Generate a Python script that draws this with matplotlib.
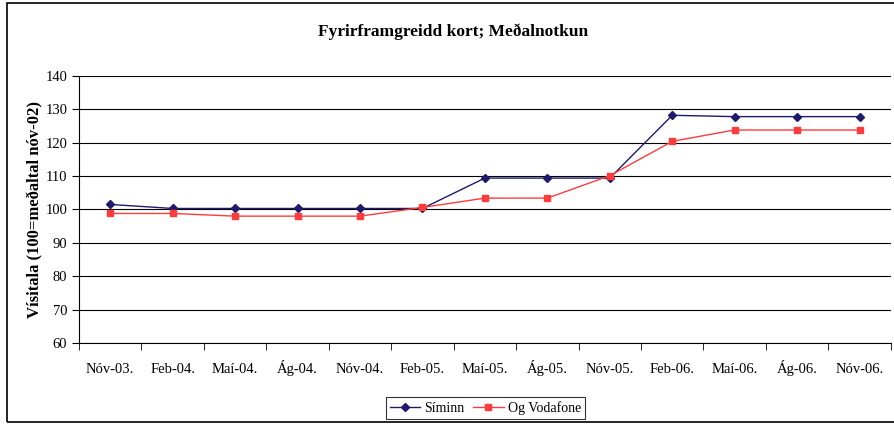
import matplotlib.pyplot as plt
from matplotlib.patches import Rectangle
import numpy as np

plt.rcParams['font.family'] = ['Liberation Serif', 'DejaVu Serif']

# data
months = ["Nóv-03.", "Feb-04.", "Maí-04.", "Ág-04.", "Nóv-04.", "Feb-05.", "Maí-05.",
          "Ág-05.", "Nóv-05.", "Feb-06.", "Maí-06.", "Ág-06.", "Nóv-06."]
siminn = [101.5, 100.3, 100.3, 100.3, 100.3, 100.3, 109.4, 109.4, 109.4, 128.2, 127.8, 127.8, 127.8]
vodafone = [98.8, 98.8, 98.0, 98.0, 98.0, 100.6, 103.4, 103.4, 110.1, 120.4, 123.8, 123.8, 123.8]

fig = plt.figure(figsize=(8.94, 4.24), dpi=100)
ax = fig.add_axes([0.0884, 0.191, 0.908, 0.630])

# outer chart border
fig.patches.append(Rectangle((0.008, 0.004), 1.1, 0.99, transform=fig.transFigure,
                             fill=False, edgecolor='black', linewidth=1.2))

x = np.arange(len(months))
ax.plot(x, siminn, color='#1f1a6e', marker='D', markersize=4.2, linewidth=1, label='Síminn')
ax.plot(x, vodafone, color='#ff3b3b', marker='s', markersize=4.8, linewidth=1, label='Og Vodafone')

ax.set_xlim(-0.5, len(months) - 0.5)
ax.set_ylim(60, 140)
ax.set_yticks(range(60, 141, 10))
ax.yaxis.grid(True, color='black', linewidth=0.8)
ax.set_axisbelow(True)

ax.set_xticks(x)
ax.set_xticklabels(months)
ax.set_xticks(np.arange(-0.5, len(months)), minor=True)
ax.tick_params(axis='x', which='major', length=0, pad=21.5, labelsize=10.5)
for lbl in ax.get_xticklabels():
    lbl.set_verticalalignment('baseline')
ax.tick_params(axis='x', which='minor', length=5, direction='out')
ax.tick_params(axis='y', length=5, direction='out', labelsize=10.5)

for s in ['top', 'right']:
    ax.spines[s].set_visible(False)

ax.set_ylabel('Vísitala (100=meðaltal nóv-02)', fontsize=12, fontweight='bold', labelpad=1)
fig.text(0.507, 0.925, 'Fyrirframgreidd kort; Meðalnotkun', ha='center', va='center',
         fontsize=12.5, fontweight='bold')

leg = fig.legend(loc='center', bbox_to_anchor=(0.543, 0.037), ncol=2, fontsize=10,
                 frameon=True, fancybox=False, edgecolor='black', handlelength=2.2,
                 columnspacing=0.6, handletextpad=0.3, borderpad=0.3)
leg.get_frame().set_linewidth(0.8)

fig.savefig('out.png', dpi=100)
